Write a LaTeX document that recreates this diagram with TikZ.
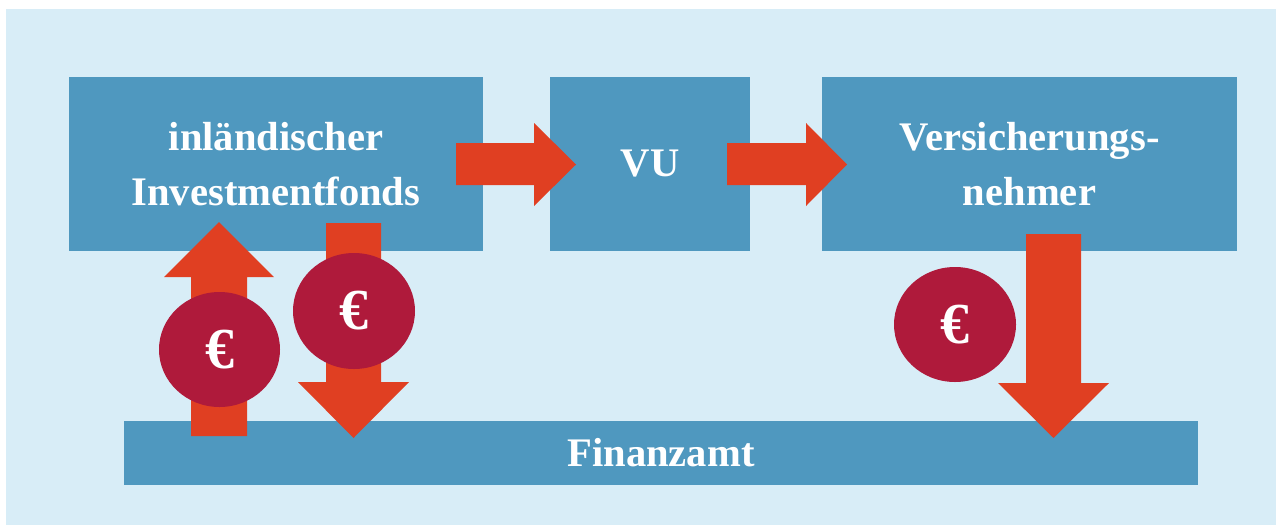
\documentclass[tikz,border=0pt]{standalone}
\usepackage{fontspec}
\setmainfont{Liberation Serif}
\definecolor{bgblue}{HTML}{D8EDF7}
\definecolor{boxblue}{HTML}{4F98BF}
\definecolor{arrred}{HTML}{E03F22}
\definecolor{coin}{HTML}{AF1A3B}
\tikzset{
  box/.style={fill=boxblue, draw=none, inner sep=0pt, text=white,
    font=\bfseries\fontsize{40.6}{55}\selectfont, align=center},
  blockarrow/.style={fill=arrred, draw=none},
  coinnode/.style={ellipse, fill=coin, draw=none, text=white, inner sep=0pt,
    font=\bfseries\fontsize{58}{60}\selectfont}
}
\usetikzlibrary{shapes.geometric}
\begin{document}
\begin{tikzpicture}[x=1pt,y=-1pt]
\useasboundingbox (0,0) rectangle (1276,525);
\fill[white] (0,0) rectangle (1276,525);
\fill[bgblue] (6,9) rectangle (1276,525);
% boxes
\node[box, minimum width=414pt, minimum height=174pt] (fonds) at (276,164) {inländischer\\Investmentfonds};
\node[box, minimum width=200pt, minimum height=174pt] (vu) at (650,164) {VU};
\node[box, minimum width=415pt, minimum height=174pt] (vn) at (1029.5,164) {Versicherungs-\\nehmer};
\node[box, minimum width=1074pt, minimum height=64pt] (fa) at (661,453) {Finanzamt};
% horizontal arrows
\fill[blockarrow] (456,143) -- (534,143) -- (534,123) -- (576,164.5) -- (534,206) -- (534,185) -- (456,185) -- cycle;
\fill[blockarrow] (727,143) -- (806,143) -- (806,123) -- (847,164.5) -- (806,206) -- (806,185) -- (727,185) -- cycle;
% vertical arrows
\fill[blockarrow] (191,436) -- (191,277) -- (164,277) -- (219,222) -- (274,277) -- (247,277) -- (247,436) -- cycle;
\fill[blockarrow] (326,223) -- (381,223) -- (381,382) -- (409,382) -- (353.5,438) -- (298,382) -- (326,382) -- cycle;
\fill[blockarrow] (1026,234) -- (1081,234) -- (1081,383) -- (1109,383) -- (1053.5,438) -- (998,383) -- (1026,383) -- cycle;
% coins
\node[coinnode, minimum width=121pt, minimum height=115pt] (c1) at (219.5,349.5) {€};
\node[coinnode, minimum width=122pt, minimum height=116pt] (c2) at (354,311) {€};
\node[coinnode, minimum width=122pt, minimum height=115pt] (c3) at (955,324.5) {€};
\end{tikzpicture}
\end{document}
